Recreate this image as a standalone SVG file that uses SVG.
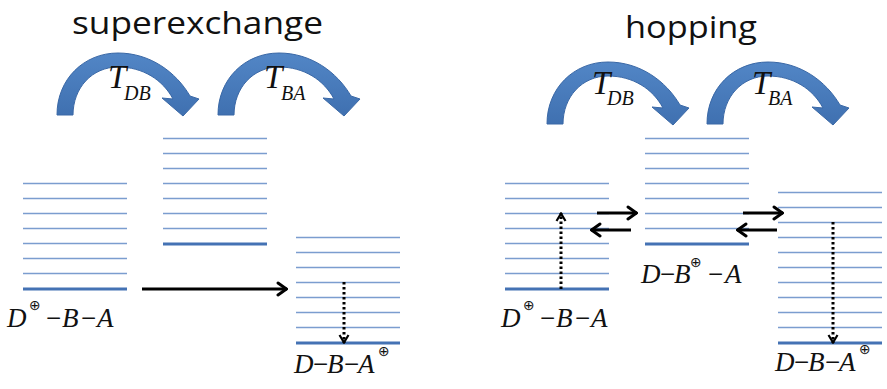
<svg xmlns="http://www.w3.org/2000/svg" width="887" height="389" viewBox="0 0 887 389">
<defs>
<linearGradient id="ag" x1="0" y1="0" x2="0" y2="1">
<stop offset="0" stop-color="#5286c6"/>
<stop offset="1" stop-color="#3f70b0"/>
</linearGradient>
<path id="curl" d="M57,115 C57,79 84,53 118,53 C150,53 176,72 190,96 L199,99 L183,116 L162,98 L173,99 C163,80 143,67 118,67 C92,67 73,88 73,115 Z"/>
<marker id="ah" viewBox="0 0 12 16" refX="11" refY="8" markerWidth="12" markerHeight="16" markerUnits="userSpaceOnUse" orient="auto">
<path d="M2,2 L10.5,8 L2,14" fill="none" stroke="#000" stroke-width="3" stroke-linecap="round" stroke-linejoin="miter"/>
</marker>
<marker id="dh" viewBox="0 0 10 12" refX="9" refY="6" markerWidth="10" markerHeight="12" markerUnits="userSpaceOnUse" orient="auto">
<path d="M1,1.5 L8.5,6 L1,10.5" fill="none" stroke="#000" stroke-width="2.2"/>
</marker>
</defs>
<style>
.title{font-family:'Open Sans','Liberation Sans',sans-serif;font-size:31px;fill:#111}
.lv{stroke:#7b9dcf;stroke-width:1.6}
.lv0{stroke:#4472b4;stroke-width:3.2}
.curl{fill:url(#ag);stroke:#3a68a6;stroke-width:1}
.tt{font-family:'Liberation Serif','Times New Roman',serif;font-style:italic;fill:#111}
.lbl{font-family:'Liberation Serif','Times New Roman',serif;font-size:27px;fill:#111}
.it{font-style:italic}
.op{font-family:'DejaVu Sans','Liberation Serif',sans-serif;font-size:14px}
.arr{stroke:#000;stroke-width:3.2;fill:none;marker-end:url(#ah)}
.dot{stroke:#000;stroke-width:3;fill:none;stroke-dasharray:2.5 2.5;marker-end:url(#dh)}
</style>
<rect width="887" height="389" fill="#fff"/>

<g id="title-superexchange"><text class="title" x="72" y="34" textLength="251" lengthAdjust="spacingAndGlyphs">superexchange</text></g>
<g id="title-hopping"><text class="title" x="625" y="38" textLength="132" lengthAdjust="spacingAndGlyphs">hopping</text></g>

<g id="se-TDB"><use href="#curl" class="curl"/><text class="tt" x="108" y="88" font-size="33">T</text><text class="tt" x="124" y="100" font-size="20">DB</text></g>
<g id="se-TBA"><use href="#curl" class="curl" transform="translate(161,0)"/><text class="tt" x="264" y="88" font-size="33">T</text><text class="tt" x="281" y="100" font-size="20">BA</text></g>
<g id="hp-TDB"><use href="#curl" class="curl" transform="translate(490,9)"/><text class="tt" x="592" y="94" font-size="33">T</text><text class="tt" x="607" y="105" font-size="20">DB</text></g>
<g id="hp-TBA"><use href="#curl" class="curl" transform="translate(650,9)"/><text class="tt" x="752" y="94" font-size="33">T</text><text class="tt" x="768" y="105" font-size="20">BA</text></g>

<g id="se-D">
<path class="lv" d="M23,183.5H127M23,198.5H127M23,213.5H127M23,228.5H127M23,243.5H127M23,258.5H127M23,273.5H127"/>
<path class="lv0" d="M23,289H127"/>
<text class="lbl" y="327"><tspan class="it" x="7">D</tspan><tspan class="op" x="29" y="310">⊕</tspan><tspan x="46" y="327">−</tspan><tspan class="it" x="62">B</tspan><tspan x="81">−</tspan><tspan class="it" x="97">A</tspan></text>
</g>
<g id="se-B">
<path class="lv" d="M163,138.5H267M163,153.5H267M163,168.5H267M163,183.5H267M163,198.5H267M163,213.5H267M163,228.5H267"/>
<path class="lv0" d="M163,244H267"/>
</g>
<g id="se-A">
<path class="lv" d="M296,237.5H400M296,252.5H400M296,267.5H400M296,282.5H400M296,297.5H400M296,312.5H400M296,327.5H400"/>
<path class="lv0" d="M296,343H400"/>
<text class="lbl" y="373"><tspan class="it" x="294">D</tspan><tspan x="313">−</tspan><tspan class="it" x="327">B</tspan><tspan x="344">−</tspan><tspan class="it" x="358">A</tspan><tspan class="op" x="378" y="356">⊕</tspan></text>
</g>

<g id="hp-D">
<path class="lv" d="M505,183.5H609M505,198.5H609M505,213.5H609M505,228.5H609M505,243.5H609M505,258.5H609M505,273.5H609"/>
<path class="lv0" d="M505,289H609"/>
<text class="lbl" y="327"><tspan class="it" x="501">D</tspan><tspan class="op" x="523" y="310">⊕</tspan><tspan x="540" y="327">−</tspan><tspan class="it" x="556">B</tspan><tspan x="575">−</tspan><tspan class="it" x="591">A</tspan></text>
</g>
<g id="hp-B">
<path class="lv" d="M645,138.5H749M645,153.5H749M645,168.5H749M645,183.5H749M645,198.5H749M645,213.5H749M645,228.5H749"/>
<path class="lv0" d="M645,244H749"/>
<text class="lbl" y="283"><tspan class="it" x="641">D</tspan><tspan x="660">−</tspan><tspan class="it" x="674">B</tspan><tspan class="op" x="690" y="267">⊕</tspan><tspan x="708" y="283">−</tspan><tspan class="it" x="725">A</tspan></text>
</g>
<g id="hp-A">
<path class="lv" d="M778,192.5H882M778,207.5H882M778,222.5H882M778,237.5H882M778,252.5H882M778,267.5H882M778,282.5H882M778,297.5H882M778,312.5H882M778,327.5H882"/>
<path class="lv0" d="M778,343H882"/>
<text class="lbl" y="371"><tspan class="it" x="775">D</tspan><tspan x="794">−</tspan><tspan class="it" x="808">B</tspan><tspan x="825">−</tspan><tspan class="it" x="839">A</tspan><tspan class="op" x="859" y="354">⊕</tspan></text>
</g>

<g id="connectors">
<path class="arr" d="M142,289H287"/>
<path class="dot" d="M344,282V343"/>
<path class="dot" d="M561,289V213"/>
<path class="arr" d="M597,213H637"/>
<path class="arr" d="M631,230H591"/>
<path class="arr" d="M743,213H783"/>
<path class="arr" d="M777,230H737"/>
<path class="dot" d="M833,222V343"/>
</g>
</svg>
